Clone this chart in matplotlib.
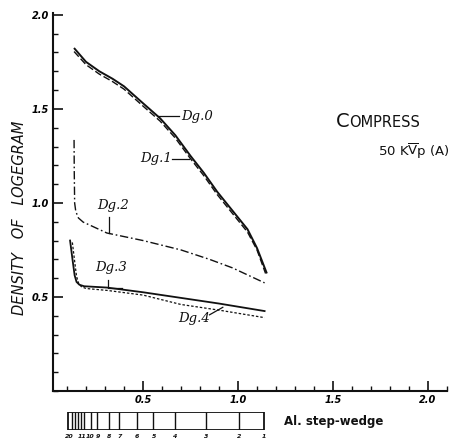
import matplotlib.pyplot as plt
from matplotlib.patches import Rectangle
from matplotlib.ticker import MultipleLocator, FixedLocator

# Density of logegram vs Al step-wedge thickness, compress at 50 kVp (A)
dg0_x = [0.14, 0.20, 0.27, 0.34, 0.40, 0.50, 0.59, 0.67, 0.75, 0.82, 0.89, 0.97, 1.05, 1.10, 1.15]
dg0_y = [1.82, 1.75, 1.70, 1.66, 1.62, 1.53, 1.45, 1.36, 1.25, 1.16, 1.06, 0.96, 0.86, 0.76, 0.63]

dg1_x = [0.137, 0.20, 0.27, 0.34, 0.40, 0.50, 0.59, 0.67, 0.75, 0.82, 0.89, 0.97, 1.05, 1.10, 1.145]
dg1_y = [1.805, 1.735, 1.685, 1.645, 1.605, 1.515, 1.435, 1.345, 1.235, 1.145, 1.045, 0.945, 0.845, 0.75, 0.625]

dg2_x = [0.137, 0.138, 0.140, 0.146, 0.16, 0.185, 0.22, 0.31, 0.50, 0.70, 0.85, 0.97, 1.14]
dg2_y = [1.335, 1.17, 1.00, 0.955, 0.92, 0.898, 0.882, 0.84, 0.80, 0.75, 0.70, 0.655, 0.575]

dg3_x = [0.116, 0.13, 0.140, 0.15, 0.165, 0.19, 0.31, 0.50, 0.70, 0.90, 1.14]
dg3_y = [0.80, 0.69, 0.615, 0.58, 0.565, 0.557, 0.55, 0.525, 0.495, 0.465, 0.425]

dg4_x = [0.128, 0.14, 0.150, 0.16, 0.175, 0.20, 0.31, 0.50, 0.70, 0.90, 1.14]
dg4_y = [0.79, 0.69, 0.610, 0.575, 0.555, 0.545, 0.535, 0.51, 0.46, 0.43, 0.39]

axis_ticks = [0.5, 1.0, 1.5, 2.0]
axis_labels = ["0.5", "1.0", "1.5", "2.0"]

# Al step-wedge: step edges (in mm on the x scale) and step numbers
wedge_left = 0.107
wedge_right = 1.137
wedge_edges = [0.125, 0.142, 0.159, 0.172, 0.189, 0.226, 0.256, 0.321, 0.375, 0.47, 0.554, 0.668, 0.83, 1.005]
wedge_label_pos = [0.113, 0.178, 0.221, 0.262, 0.321, 0.375, 0.47, 0.556, 0.668, 0.83, 1.005, 1.137]
wedge_labels = ["20", "11", "10", "9", "8", "7", "6", "5", "4", "3", "2", "1"]

ink = "#111111"
hand = {"family": "DejaVu Sans", "style": "italic"}

fig = plt.figure(figsize=(4.54, 4.42), dpi=100)
ax = fig.add_axes([0.1167, 0.1154, 0.8678, 0.8552])

ax.plot(dg0_x, dg0_y, color=ink, lw=1.4)
ax.plot(dg1_x, dg1_y, color=ink, lw=1.0, dashes=(5, 2))
ax.plot(dg2_x, dg2_y, color=ink, lw=1.0, dashes=(6, 2, 1.2, 2))
ax.plot(dg3_x, dg3_y, color=ink, lw=1.3)
ax.plot(dg4_x, dg4_y, color=ink, lw=0.9, dashes=(2, 1.5))

# curve labels with their leader lines
lab = dict(fontsize=9.5, family="DejaVu Serif", style="italic", color=ink)
ax.plot([0.58, 0.69], [1.46, 1.46], color=ink, lw=0.9)
ax.text(0.70, 1.46, "Dg.0", ha="left", va="center", **lab)
ax.plot([0.655, 0.74], [1.235, 1.235], color=ink, lw=0.9)
ax.text(0.65, 1.235, "Dg.1", ha="right", va="center", **lab)
ax.plot([0.32, 0.32], [0.925, 0.84], color=ink, lw=0.9)
ax.text(0.34, 0.985, "Dg.2", ha="center", va="center", **lab)
ax.plot([0.315, 0.315, 0.39], [0.59, 0.55, 0.55], color=ink, lw=0.9)
ax.text(0.33, 0.655, "Dg.3", ha="center", va="center", **lab)
ax.plot([0.85, 0.92], [0.405, 0.445], color=ink, lw=0.9)
ax.text(0.77, 0.385, "Dg.4", ha="center", va="center", **lab)

ax.set_xlim(0.026, 2.1)
ax.set_ylim(0, 2.01)
ax.spines["top"].set_visible(False)
ax.spines["right"].set_visible(False)
for s in ("left", "bottom"):
    ax.spines[s].set_linewidth(1.5)
    ax.spines[s].set_color(ink)

ax.xaxis.set_major_locator(FixedLocator(axis_ticks))
ax.yaxis.set_major_locator(FixedLocator(axis_ticks))
ax.xaxis.set_minor_locator(MultipleLocator(0.1))
ax.yaxis.set_minor_locator(MultipleLocator(0.1))
ax.set_xticklabels(axis_labels)
ax.set_yticklabels(axis_labels)
ax.tick_params(which="major", direction="in", length=7, width=1.2, color=ink,
               labelsize=7, pad=3)
ax.tick_params(which="minor", direction="in", length=3.5, width=1.0, color=ink)
for t in ax.get_xticklabels() + ax.get_yticklabels():
    t.set_fontweight("bold")
    t.set_fontstyle("italic")

fig.text(0.044, 0.507, "DENSITY   OF   LOGEGRAM", rotation=90, ha="center", va="center",
         fontsize=10.5, color=ink, **hand)

# title block
fig.text(0.740, 0.713, "C", fontsize=14, color=ink, ha="left", va="baseline")
fig.text(0.770, 0.713, "OMPRESS", fontsize=10.5, color=ink, ha="left", va="baseline")
fig.text(0.832, 0.647, r"50 K$\overline{\mathrm{V}}$p (A)", fontsize=9.5, color=ink,
         ha="left", va="baseline")

# step-wedge strip under the x axis
wax = fig.add_axes([0.1167, 0.027, 0.8678, 0.041])
wax.set_xlim(0.026, 2.1)
wax.set_ylim(0, 1)
wax.axis("off")
wax.add_patch(Rectangle((wedge_left, 0), wedge_right - wedge_left, 1,
                        fill=False, edgecolor=ink, lw=1.3))
wax.vlines(wedge_edges, 0, 1, color=ink, lw=1.0)
for xp, s in zip(wedge_label_pos, wedge_labels):
    wax.text(xp, -0.2, s, ha="center", va="top", fontsize=4.5, fontweight="bold",
             color=ink, clip_on=False, **hand)
wax.text(1.24, 0.5, "Al. step-wedge", ha="left", va="center", fontsize=8.5,
         fontweight="bold", color=ink)

fig.savefig("out.png", dpi=100)
